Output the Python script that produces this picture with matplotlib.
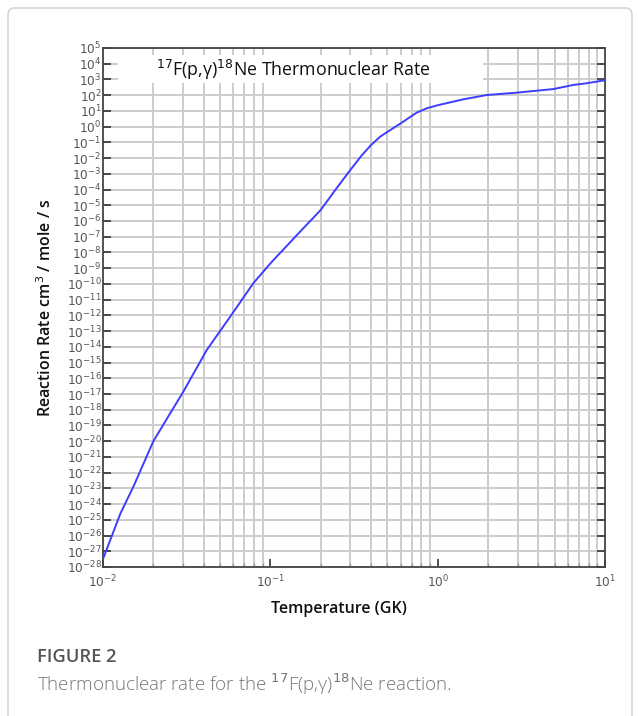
import numpy as np
import matplotlib
matplotlib.use("Agg")
import matplotlib.pyplot as plt
from matplotlib.patches import FancyBboxPatch, Rectangle
from matplotlib.ticker import FixedLocator, NullFormatter, NullLocator

# temperature (GK) and reaction rate (cm^3 / mole / s)
temperature = [0.0100, 0.0127, 0.0152, 0.0200, 0.0240, 0.0302, 0.0417, 0.0574,
               0.0791, 0.100, 0.114, 0.150, 0.200, 0.250, 0.300, 0.350, 0.400,
               0.453, 0.600, 0.750, 0.861, 1.00, 1.43, 1.96, 2.97, 4.92, 6.47,
               7.78, 10.0]
rate = [3.2e-28, 2.5e-25, 1.3e-23, 1.0e-20, 2.5e-19, 1.4e-17, 6.3e-15, 7.9e-13,
        1.1e-10, 2.0e-9, 8.9e-9, 2.0e-7, 5.0e-6, 1.3e-4, 1.7e-3, 1.4e-2,
        6.8e-2, 0.23, 1.6, 7.8, 14.8, 22.9, 55.0, 102.0, 145.0, 245.0, 447.0,
        575.0, 891.0]

y_exponents = list(range(-28, 6))
x_exponents = [-2, -1, 0, 1]

title = r"$^{17}$F(p,γ)$^{18}$Ne Thermonuclear Rate"
caption_head = "FIGURE 2"
caption = r"Thermonuclear rate for the $^{17}$F(p,γ)$^{18}$Ne reaction."

plt.rcParams['font.family'] = ['Open Sans', 'DejaVu Sans']

fig = plt.figure(figsize=(6.38, 7.16), dpi=100)

# light frame around the figure
frame = FancyBboxPatch((8 / 638, -0.05), 624 / 638, 1.05 - 8 / 716,
                       boxstyle="round,pad=0,rounding_size=0.01",
                       transform=fig.transFigure, facecolor="none",
                       edgecolor="#cfcfcf", linewidth=1.0)
fig.patches.append(frame)

ax = fig.add_axes([103 / 638, 1 - 567 / 716, 502 / 638, 519 / 716])
ax.set_xscale("log")
ax.set_yscale("log")
ax.set_xlim(1e-2, 1e1)
ax.set_ylim(1e-28, 1e5)

yt = [10.0 ** e for e in y_exponents]
ax.yaxis.set_major_locator(FixedLocator(yt))
ax.set_yticklabels([r"$10^{%d}$" % e for e in y_exponents])
ax.yaxis.set_minor_locator(NullLocator())

xt = [10.0 ** e for e in x_exponents]
ax.xaxis.set_major_locator(FixedLocator(xt))
ax.set_xticklabels([r"$10^{%d}$" % e for e in x_exponents])
xminor = [m * 10.0 ** e for e in x_exponents[:-1] for m in range(2, 10)]
ax.xaxis.set_minor_locator(FixedLocator(xminor))
ax.xaxis.set_minor_formatter(NullFormatter())

ax.grid(True, which="major", axis="y", color="#cccccc", linewidth=1.4, zorder=0)
ax.grid(True, which="minor", axis="x", color="#cccccc", linewidth=1.4, zorder=0)

ax.tick_params(axis="y", which="major", direction="in", length=6, width=1.2,
               right=True, labelsize=8.7, labelcolor="#555555", pad=1,
               color="#333333")
ax.tick_params(axis="x", which="major", direction="in", length=6, width=1.2,
               labelsize=8.7, labelcolor="#555555", pad=5, color="#333333")
ax.tick_params(axis="x", which="minor", direction="in", length=3, width=1.0,
               color="#999999")
for s in ax.spines.values():
    s.set_color("#444444")
    s.set_linewidth(1.3)

ax.plot(temperature, rate, color="#3d3dff", linewidth=1.4, zorder=3)

# white box behind the title
ax.add_patch(Rectangle((0.030, 0.9326), 0.727, 0.054, transform=ax.transAxes,
                       facecolor="white", edgecolor="none", zorder=2))
ax.text(0.105, 0.958, title, transform=ax.transAxes, fontsize=12.8,
        color="#111111", va="center", ha="left", zorder=4)

ax.set_xlabel("Temperature (GK)", fontsize=11.5, fontweight="semibold",
              color="#111111", labelpad=8)
ax.xaxis.set_label_coords(0.47, -0.066)
ax.set_ylabel(r"Reaction Rate cm$^3$ / mole / s", fontsize=11.5,
              fontweight="semibold", color="#111111", labelpad=8)

fig.text(37 / 638, 1 - 657 / 716, caption_head, fontsize=13.2, color="#555555",
         va="center", ha="left", fontweight="semibold")
fig.text(37 / 638, 1 - 684 / 716, caption, fontsize=13.5, color="#777777",
         va="center", ha="left", fontweight="light")

fig.savefig("out.png", dpi=100)
